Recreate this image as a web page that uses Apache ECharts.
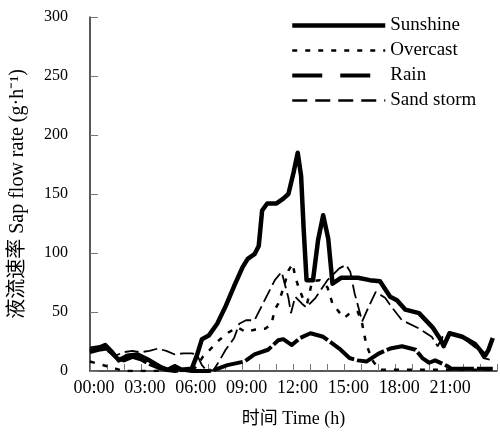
<!DOCTYPE html>
<html>
<head>
<meta charset="utf-8">
<script src="https://cdn.jsdelivr.net/npm/echarts@6/dist/echarts.min.js"></script>
<style>
  html, body { margin: 0; padding: 0; background: #fff; }
  #chart { width: 500px; height: 433px; }
</style>
</head>
<body>
<div id="chart"></div>
<script>
// hour labels on the x axis
var timeLabels = ['00:00', '03:00', '06:00', '09:00', '12:00', '15:00', '18:00', '21:00']

// [hour, sap flow g/h]
var sunshine = [[0,17],[0.4,19],[0.9,22],[1.3,16],[1.7,9],[2.2,13],[2.8,14],[3.5,9],[4.2,3],[4.6,1],[5.0,4],[5.4,1],[6.0,2],
  [6.3,13],[6.6,27],[7.0,30],[7.5,40],[8.0,55],[8.5,72],[9.0,88],[9.3,95],[9.7,99],[9.95,106],[10.15,136],[10.45,142],
  [11.0,142],[11.4,146],[11.7,150],[12.0,168],[12.25,185],[12.45,165],[12.6,120],[12.77,77],[13.15,77],[13.45,111],
  [13.75,132],[14.05,112],[14.3,74],[14.8,79],[15.8,79],[16.5,77],[17.1,76],[17.7,63],[18.1,60],[18.6,52],[19.4,49],
  [20.2,37],[20.7,26],[20.85,21],[21.2,32],[21.95,29],[22.7,23],[23.1,16],[23.3,13],[23.5,18],[23.75,28]]

var overcast = [[0,8],[0.5,6],[1.0,4],[1.5,2],[2.0,0],[6.0,0],[6.3,4],[6.65,12],[7.2,20],[7.6,26],[8.2,33],[8.7,37],
  [9.2,33],[9.7,35],[10.35,36],[10.7,40],[10.9,52],[11.1,57],[11.4,70],[11.7,85],[11.95,91],[12.1,80],[12.3,71],
  [12.6,60],[12.8,57],[13.1,76],[13.55,77],[14.0,71],[14.3,57],[14.8,48],[15.0,45],[15.4,50],[15.8,50],[16.05,40],
  [16.3,22],[16.7,8],[17.1,1],[23.75,1]]

var rain = [[0,16],[0.5,18],[1.0,19],[1.5,12],[2.0,9],[2.5,12],[3.0,10],[3.5,6],[4.0,3],[4.5,1],[5.0,0],[5.5,1],[6.0,0],
  [7.0,0],[7.34,1],[8.1,5],[9.1,8],[9.7,14],[10.5,18],[11.1,26],[11.4,27],[11.9,22],[12.4,28],[13.0,32],[13.75,29],
  [14.7,19],[15.3,11],[15.8,9],[16.3,8],[17.05,15],[17.7,19],[18.4,21],[19.2,18],[19.6,11],[20.0,7],[20.35,9],
  [21.1,4],[21.3,2],[23.75,2]]

var sandStorm = [[0,20],[0.5,21],[1.0,17],[1.5,13],[2.0,16],[2.5,17],[3.0,16],[3.5,17],[4.0,19],[4.5,17],[5.0,14],
  [5.5,15],[6.0,15],[6.3,14],[6.6,5],[6.9,0],[7.3,1],[7.6,8],[8.0,18],[8.5,28],[8.8,40],[9.2,43],[9.7,43],[10.3,60],
  [10.9,77],[11.3,84],[11.7,62],[11.85,49],[12.1,63],[12.5,57],[12.75,54],[13.3,62],[14.0,77],[14.7,87],[15.1,90],
  [15.35,84],[15.6,66],[16.05,42],[16.45,55],[16.85,67],[17.4,62],[17.8,54],[18.4,43],[19.4,36],[20.15,29],[20.5,21],
  [20.8,29],[21.3,32],[21.9,29],[22.9,18],[23.2,11],[23.75,9]]

var serif = '"Liberation Serif", "Noto Sans CJK SC", serif'

var chart = echarts.init(document.getElementById('chart'))
chart.setOption({
  animation: false,
  backgroundColor: '#fff',
  grid: {
    left: 89,
    right: 0,
    top: 17,
    bottom: 62
  },
  legend: {
    orient: 'vertical',
    left: 290,
    top: 16,
    padding: 0,
    itemWidth: 93,
    itemHeight: 18,
    itemGap: 6,
    itemStyle: { opacity: 0 },
    textStyle: { fontFamily: serif, fontSize: 19, color: '#000', lineHeight: 18 },
    data: [
      { name: 'Sunshine', lineStyle: { width: 4.5 } },
      { name: 'Overcast', lineStyle: { type: [5, 8], width: 2.5 } },
      { name: 'Rain', lineStyle: { type: [30, 18], width: 4 } },
      { name: 'Sand storm', lineStyle: { type: [15, 8], width: 2.5 } }
    ]
  },
  xAxis: {
    type: 'value',
    min: 0,
    max: 24,
    interval: 1,
    name: '时间 Time (h)',
    nameLocation: 'middle',
    nameGap: 39,
    nameTextStyle: { fontFamily: serif, fontSize: 18, color: '#000' },
    axisLine: { lineStyle: { color: '#222', width: 1.5 } },
    axisTick: { inside: true, length: 7, lineStyle: { color: '#777' } },
    splitLine: { show: false },
    axisLabel: {
      margin: 8,
      fontFamily: serif,
      fontSize: 18,
      color: '#000',
      padding: [0, 0, 0, 8],
      formatter: function (v) {
        return v % 3 === 0 && v / 3 < timeLabels.length ? timeLabels[v / 3] : ''
      }
    }
  },
  yAxis: {
    type: 'value',
    min: 0,
    max: 300,
    interval: 50,
    name: '液流速率 Sap flow rate (g·h⁻¹)',
    nameLocation: 'middle',
    nameGap: 62,
    nameTextStyle: { fontFamily: serif, fontSize: 20, color: '#000' },
    axisLine: { show: true, lineStyle: { color: '#222', width: 1.5 } },
    axisTick: { show: true, inside: true, length: 8, lineStyle: { color: '#777' } },
    splitLine: { show: false },
    axisLabel: { margin: 22, fontFamily: serif, fontSize: 16, color: '#000' }
  },
  series: [
    {
      name: 'Sunshine',
      type: 'line',
      symbol: 'none',
      data: sunshine,
      lineStyle: { color: '#000', width: 4.5, join: 'round' },
      itemStyle: { color: '#000' }
    },
    {
      name: 'Overcast',
      type: 'line',
      symbol: 'none',
      data: overcast,
      lineStyle: { color: '#000', width: 2.5, type: [5, 8] },
      itemStyle: { color: '#000' }
    },
    {
      name: 'Rain',
      type: 'line',
      symbol: 'none',
      data: rain,
      lineStyle: { color: '#000', width: 4, type: [30, 3], join: 'round' },
      itemStyle: { color: '#000' }
    },
    {
      name: 'Sand storm',
      type: 'line',
      symbol: 'none',
      data: sandStorm,
      lineStyle: { color: '#000', width: 1.8, type: [14, 5] },
      itemStyle: { color: '#000' }
    }
  ]
})
</script>
</body>
</html>
